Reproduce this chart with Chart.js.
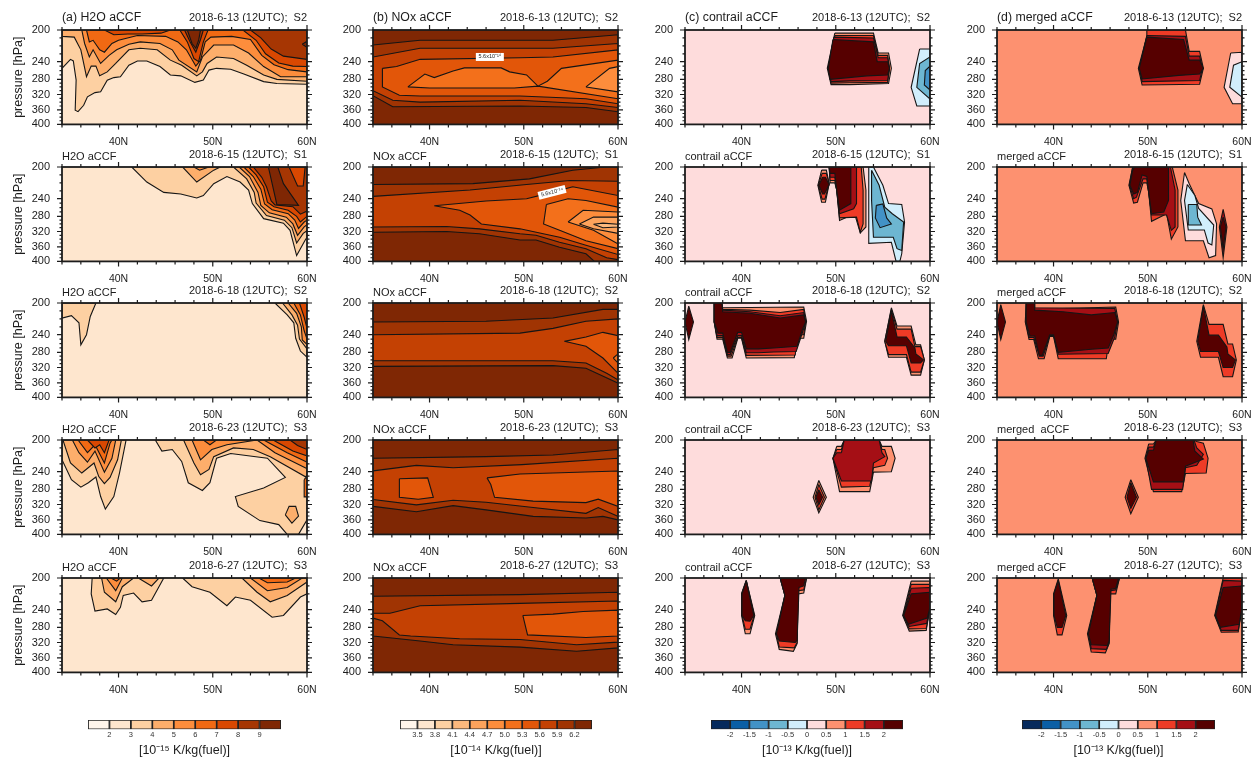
<!DOCTYPE html>
<html><head><meta charset="utf-8">
<style>html,body{margin:0;padding:0;background:#fff}#root{position:relative;width:1258px;height:758px;overflow:hidden;filter:blur(0.45px)}canvas{position:absolute}</style>
<script src="https://cdn.jsdelivr.net/npm/chart.js@4/dist/chart.umd.min.js"></script>
</head><body><div id="root"></div>
<script>
// ---------- axis values ----------
const pressureTicks=[200,240,280,320,360,400];
const pressureFractions=[0,.336,.523,.683,.846,1];   // the model-level axis is not linear in pressure
const latMajor=[40,50,60];
const latMinor=[34,36,38,42,44,46,48,52,54,56,58];
const pressureMinor=[210,220,230,250,260,270,290,300,310,330,340,350,370,380,390];
const rowDates=['2018-6-13 (12UTC);  S2','2018-6-15 (12UTC);  S1','2018-6-18 (12UTC);  S2','2018-6-23 (12UTC);  S3','2018-6-27 (12UTC);  S3'];
const h2oTitles=['(a) H2O aCCF','H2O aCCF','H2O aCCF','H2O aCCF','H2O aCCF'];
const noxTitles=['(b) NOx aCCF','NOx aCCF','NOx aCCF','NOx aCCF','NOx aCCF'];
const conTitles=['(c) contrail aCCF','contrail aCCF','contrail aCCF','contrail aCCF','contrail aCCF'];
const merTitles=['(d) merged aCCF','merged aCCF','merged aCCF','merged  aCCF','merged aCCF'];
// ---------- colour levels and colourbars ----------
const h2oColors=['#fff5eb','#fee6ce','#fdd0a2','#fdae6b','#fd8d3c','#f16913','#d94801','#a63603','#7f2704'];
const noxColors=['#fff5eb','#fee6ce','#fdd0a2','#fdb97d','#fda35c','#fd8d3c','#f3701b','#e25609','#c44103','#a03403','#7f2704'];
const accfColors=['#062a5c','#0b5fa5','#4292c6','#6db6d1','#d1eefc','#fedcdc','#fd9170','#ee3b26','#a50f15','#560000'];
const h2oBarLabels=['2','3','4','5','6','7','8','9'];
const noxBarLabels=['3.5','3.8','4.1','4.4','4.7','5.0','5.3','5.6','5.9','6.2'];
const accfBarLabels=['-2','-1.5','-1','-0.5','0','0.5','1','1.5','2'];
// ---------- contour regions: [level, [lat,p, lat,p, ...]] ----------
const h2o0613=[[1,[34,200,60,200,60,400,34,400]],
[2,[34,255,34.9,237,35.2,239,35.5,282,35.4,361,35.7,365,36.3,348,36.7,326,37.5,315,38.1,313,38.8,282,39.5,276,40.2,274,41.1,248,42,239,43,239,44.4,251,45.5,270,46.6,272,48.1,288,49,282,49.6,259,50.4,255,51.9,257,53.3,268,55.4,286,56.8,291,60,293,60,200,34,200]],
[3,[34,208,35.3,209,36,225,36.6,274,37.1,250,37.6,250,38,272,38.8,263,39.7,244,41.1,225,42.3,223,44.1,225,45.5,238,46.7,248,48.3,272,48.9,263,49.4,244,50.4,234,52.2,236,53.6,248,55.4,270,56.8,280,60,285,60,200,34,200]],
[4,[36.1,200,36.4,217,36.9,234,37.3,225,38.1,244,39,232,39.8,225,41.1,218,42.3,215,44.4,217,45.7,225,46.4,238,48.3,263,48.9,234,50.1,219,52.2,219,53.8,229,55.4,251,57.2,274,60,274,60,200]],
[5,[36.6,200,36.9,215,37.3,213,38,225,38.5,228,39.3,217,40,213,42,207,45,208,46.3,215,47.2,225,48.2,250,48.7,238,49.2,215,49.8,209,52,208,54,212,55.2,232,56.5,247,58,258,60,263,60,200]],
[6,[38.5,200,39.5,206,41,205,42.5,205,44.5,204,45.5,200]],
[6,[46.5,200,47.3,215,48,236,48.5,240,49,215,49.5,200]],
[6,[53.2,200,54.6,213,55.6,230,57,243,58.5,250,60,251,60,200]],
[7,[47,200,47.6,215,48.2,228,48.7,212,49,200]],
[7,[54,200,55.1,210,56.2,224,57.5,233,60,237,60,200]],
[8,[47.3,200,47.8,217,48.2,223,48.5,213,48.7,200]],
[8,[59.5,218,60,214,60,222]]];
const h2o0615=[[1,[34,200,60,200,60,400,34,400]],
[2,[41.4,200,43,219,44.8,232,46.6,234,48.3,239,49,236,50.1,221,51.5,212,52.9,219,53.8,229,54.2,251,55.4,286,57.5,298,58.2,317,58.9,384,59.8,343,60,335,60,200]],
[3,[46.8,200,48.3,219,50.1,204,50.8,200]],
[4,[48,200,48.6,204,49.6,200]],
[3,[52.2,200,53.6,215,54.4,232,54.6,250,55.7,278,57.6,290,58.4,310,58.9,350,59.6,325,60,318,60,200]],
[4,[52.8,200,53.9,212,54.8,232,55.1,255,56,272,57.8,282,58.5,300,59,330,59.7,308,60,302,60,200]],
[5,[53.3,200,54.3,212,55.1,228,55.5,252,56.3,265,58,274,58.7,290,59.1,312,59.7,295,60,290,60,200]],
[6,[53.8,200,54.6,210,55.4,225,55.8,248,56.5,258,58,266,58.9,280,59.3,295,60,280,60,200]],
[7,[54.3,200,55.2,213,55.7,225,56.2,245,56.6,254,58.5,258,59.3,275,60,268,60,200]],
[8,[55.9,200,56.8,253,59.1,255,57.5,221,56.9,200]],
[6,[58.1,200,59,224,59.6,224,59.8,200]]];
const h2o0618=[[1,[34,200,60,200,60,400,34,400]],
[2,[37.6,200,37,217,36.6,240,36,263,35.8,225,35,216,34,219,34,200]],
[2,[56.6,200,57.9,215,58.6,225,58.8,248,59.3,277,60,293,60,200]],
[3,[57.4,200,58.4,215,59,228,59.2,250,60,272,60,200]],
[4,[58,200,58.9,213,59.4,230,59.5,252,60,262,60,200]],
[5,[58.6,200,59.3,215,59.7,235,60,250,60,200]],
[6,[59.2,200,59.7,218,60,232,60,200]]];
const h2o0623=[[1,[34,200,60,200,60,400,34,400]],
[2,[34,225,35,258,36,275,36.8,265,37.6,252,38.1,299,38.6,332,39.5,299,40.1,243,40.8,200,34,200]],
[3,[34.1,200,34.9,229,36.1,243,37.4,229,37.9,251,38.5,267,39.1,253,39.9,225,40.3,200]],
[4,[35.1,200,35.8,216,36.7,228,37.5,214,38.5,241,39.3,223,39.7,200]],
[5,[35.7,200,36.7,216,37.5,206,38.5,229,39.1,204,39.3,200]],
[6,[36.7,200,37.5,210,38,206,38.5,216,39,200]],
[2,[43.9,200,44.6,214,45.7,212,46.7,227,47.4,265,48.9,283,49.7,265,50.4,223,51.9,217,55.8,223,57.7,253,55.4,277,52.4,299,52.7,325,55,362,57,373,57.9,400,59.1,400,60,360,60,200]],
[3,[46.9,200,48,229,48.7,247,49.6,237,50.1,221,52.2,210,54.3,212,56.1,221,59.8,251,60,250,60,200]],
[3,[57.7,347,58.1,325,58.8,325,59.1,350,58.4,369]],
[4,[47.8,200,48.7,225,49.9,212,51.5,206,54.7,200,56.6,216,60,236,60,200]],
[5,[49,200,49.7,206,50.4,200]],
[5,[55.4,200,57.9,216,60,228,60,200]],
[6,[56.4,200,58.5,214,60,220,60,200]],
[7,[58.2,200,59,207,60,212,60,200]],
[5,[59.7,258,60,250,60,300,59.7,300]]];
const h2o0627=[[1,[34,200,60,200,60,400,34,400]],
[2,[37.2,200,37.1,220,37.5,243,38.8,239,39.7,251,40.2,237,40.5,222,41.6,219,42.5,230,43.5,228,44.8,200]],
[2,[46.8,200,47.8,211,49.7,218,51.5,235,52.4,224,54,228,56.3,257,57.5,253,59.3,224,60,220,60,200]],
[3,[38.2,200,38.5,218,39.7,230,40.4,211,41.6,200]],
[3,[42.1,200,43.5,210,44.3,200]],
[3,[53.1,200,54.7,218,56.1,230,57.9,222,60,205,60,200]],
[4,[38.7,200,39.7,216,40.4,200]],
[4,[54,200,55.8,216,57.9,212,59.5,200]],
[5,[39.2,200,39.8,204,40.2,200]],
[5,[54.9,200,55.8,206,57.9,205,58.8,200]]];
const nox0613=[[10,[34,200,60,200,60,400,34,400]],
[9,[34,219,39,213,53.1,213,60,206,60,365,56.6,354,49.6,350,36.1,352,34,323]],
[8,[34,234,39,223,53.1,223,60,217,60,354,56.6,344,49.6,335,39,340,36.1,335,34,310]],
[7,[35,255,36.5,251,39,237,49.6,235,53.1,234,60,225,60,344,56.6,331,49.6,324,39,324,36.8,322,35,300]],
[6,[37.7,300,39.5,268,40.5,276,42.5,261,43.7,254,47.6,254,48.5,263,50.3,270,51.5,298,52.5,285,54,255,60,238,60,331,51.5,298,49,303,40,303]],
[5,[56.6,300,59.1,255,60,251,60,313]]];
const nox0615=[[10,[34,200,60,200,60,400,34,400]],
[9,[34,222,44.6,221,50.6,215,55.2,204,58.7,200,60,200,60,400,57.5,400,56.6,379,53.8,361,51.3,342,49.6,342,45.3,326,41.8,320,34,322]],
[8,[34,237,44.3,229,50.3,222,54.9,217,60,218,60,395,58.8,390,56.6,365,53.8,348,51.3,330,49.6,326,45.3,313,41.8,307,34,308]],
[7,[40.5,256,46,245,50.3,240,53,232,55.2,225,60,236,60,381,56.6,356,53.8,335,49.6,313,45.5,300,44.3,277,43.2,266]],
[6,[52.4,253,54.7,240,56.6,244,60,259,60,365,56.6,344,53.8,317,52.1,300]],
[5,[54.7,295,56.3,266,60,270,60,352,57.4,317]],
[4,[55.9,300,57.4,282,60,282,60,325,57.4,313]],
[3,[57.4,301,58.4,298,60,301,60,308,58.4,310]]];
const nox0618=[[10,[34,200,60,200,60,400,34,400]],
[9,[34,224,46,223,53.1,219,58.4,208,60,208,60,361,56.6,322,53.1,315,34,317]],
[8,[34,240,49.6,238,53.1,232,56.6,223,60,220,60,352,58.8,335,56.6,308,53.1,302,34,302]],
[7,[54.3,255,56.6,245,58.4,237,60,242,60,335,58.4,295,56.6,266]],
[6,[59.5,295,60,284,60,308]]];
const nox0623=[[10,[34,200,60,200,60,400,34,400]],
[9,[34,223,46,221,53.1,219,60,212,60,360,58.4,351,56.6,355,51,351,46,334,42.5,323,38.6,339,34,325]],
[8,[34,239,38.6,232,42.5,235,49.8,231,60,223,60,351,57.9,328,56.6,343,51,328,46,314,42.5,309,38.6,321,34,307]],
[7,[36.8,256,39.8,254,40.4,301,38.8,306,36.8,301]],
[7,[46.1,254,49.6,245,60,239,60,325,57.9,306,56.6,315,51,311,46.9,301,46.5,269]]];
const nox0627=[[10,[34,200,60,200,60,400,34,400]],
[9,[34,223,49.6,221,60,218,60,334,55.6,343,49.6,332,42.5,326,39,316,34,303]],
[8,[34,248,35.8,248,39,235,49.6,232,60,229,60,319,55.6,326,49.6,312,43.2,310,38,303,36.8,300,35,265,34,259]],
[7,[49.9,253,53.1,250,56.3,244,60,241,60,303,56.6,307,50.4,300]]];
const con0613=[[5,[34,200,60,200,60,400,34,400]],
[6,[49.9,204,54,204,54.5,229,55.6,229,55.9,255,55.6,291,51.5,294,49.5,294,49.1,255]],
[7,[49.9,207,54,207,54.5,232,55.5,232,55.7,255,55.5,288,51.5,289,49.5,290,49.2,255]],
[8,[49.8,209,54,210,54.5,235,55.5,235,55.7,255,55.5,283,51.5,284,49.5,286,49.2,255]],
[9,[49.7,212,54,215,54.4,240,55.5,240,55.7,255,55.5,270,53.3,272,49.4,280,49.2,255]],
[4,[58.9,224,60,224,60,350,58.6,350,58,301]],
[3,[60,234,58.9,244,58.6,301,60,332]],
[2,[60,250,59.5,260,59.4,295,60,308]]];
const con0615=[[5,[34,200,60,200,60,400,34,400]],
[6,[48.5,204,49,204,49.3,221,48.9,248,48.5,248,48.1,223]],
[7,[48.55,208,49,208,49.3,221,48.85,241,48.55,241,48.15,223]],
[9,[48.6,213,48.9,213,49.3,222,48.8,234,48.6,234,48.2,223]],
[6,[49.3,200,52.9,200,53.2,229,53.2,308,52.6,324,52,274,50.4,291,50.1,229,49.9,220,49.4,220]],
[7,[49.3,200,52.7,200,52.9,229,52.9,300,52.6,322,52.2,282,50.4,284,50.1,229,49.9,217,49.4,217]],
[8,[49.3,200,52.2,200,52.2,251,51.9,263,50.4,274,50.1,229,49.9,213,49.4,213]],
[9,[49.3,200,51.6,200,51.6,251,50.4,266,50.1,229,49.9,208,49.4,208]],
[4,[53.5,200,54,200,55,223,55.6,251,57,253,57.3,295,57,379,56.8,400,56.4,400,55.9,348,53.5,351]],
[3,[53.8,204,54.6,223,55.2,259,56,274,57.2,295,57,370,56.5,365,56.1,335,54,335,53.8,244]],
[2,[54.3,255,55,252,55.4,284,55.9,300,54.7,310,54.2,284]]];
const con0618=[[5,[34,200,60,200,60,400,34,400]],
[9,[34.4,204,34.9,224,34.4,251,34,224]],
[6,[37.1,200,37.9,200,38,206,46.6,205,46.9,223,46.6,248,45.9,248,45.6,294,40.5,295,40,248,39.6,248,39,295,38.5,295,38,250,37.4,250,37.1,224]],
[7,[37.1,200,37.9,200,38,208,40.9,209,44.1,212,46.6,208,46.8,224,46.6,240,45.9,240,45.7,287,40.5,288,40,246,39.6,246,38.9,290,38.5,290,38,246,37.4,246,37.1,224]],
[8,[37.1,200,37.9,200,38,209,40.9,211,44.1,216,46.6,212,46.8,224,46.5,236,45.8,278,43.4,279,41.8,281,40.5,281,40,242,39.6,242,38.8,286,38.5,286,38,242,37.4,242,37.1,224]],
[9,[37.1,200,37.9,200,38,211,40.9,213,44.1,219,46.6,215,46.8,224,46.5,232,45.9,266,43.4,270,41.8,272,40.5,272,40,237,39.6,237,38.8,280,38.5,280,38,238,37.5,238,37.1,224]],
[6,[55.9,206,56.5,229,58,229,58.5,263,59,263,59.4,300,59,340,58,340,57.5,293,55.6,293,55.2,255]],
[7,[55.9,208,56.5,233,58,233,58.4,267,59,267,59.4,300,59,332,58,332,57.5,286,55.6,286,55.2,255]],
[9,[55.9,210,56.5,245,57.5,245,58.4,270,58.5,284,59.3,300,59,308,58,308,57.5,265,55.6,265,55.3,255]]];
const con0623=[[5,[34,200,60,200,60,400,34,400]],
[6,[50.1,208,50.6,208,50.9,200,54.6,200,54.9,208,55.9,208,56.3,223,55.9,240,54,241,53.6,286,50.4,286,49.7,223]],
[7,[50.1,212,50.6,212,50.9,200,54.6,200,54.9,212,55.2,212,55.5,223,55.2,232,54,235,53.6,273,50.6,275,49.7,223]],
[8,[50.6,216,50.9,200,54.6,200,54.9,216,55.2,221,54,229,53.8,261,50.6,261,49.7,223,50.1,216]],
[6,[48.2,260,49,301,48.2,342,47.6,301]],
[7,[48.2,269,48.8,301,48.2,334,47.8,301]],
[9,[48.2,281,48.6,301,48.2,321,47.9,301]]];
const con0627=[[5,[34,200,60,200,60,400,34,400]],
[6,[40.5,203,41.4,253,40.9,297,40.4,297,40,253,40,220]],
[7,[40.5,203,41.35,253,40.9,285,40.4,285,40.05,253,40,220]],
[9,[40.5,204,41.3,253,40.9,266,40.4,265,40.05,253,40.05,220]],
[6,[44.1,200,46.9,200,46.6,219,46,220,45.9,323,45.5,343,44,338,43.6,297,44.6,222]],
[7,[44.1,200,46.9,200,46.6,215,46,216,45.9,320,45.6,334,44,332,43.7,297,44.6,222]],
[9,[44.1,200,46.8,200,46.6,210,46.1,212,45.9,314,45.7,320,44,316,43.7,297,44.6,222]],
[6,[58,204,60,204,60,237,59.6,288,57.8,290,57.1,253]],
[7,[58,208,60,208,60,237,59.6,283,57.8,284,57.15,253]],
[8,[58,213,60,212,60,237,59.65,271,57.8,278,57.2,253]],
[9,[58,220,60,218,60,237,59.7,259,57.7,273,57.2,253]]];
const mer0613=[[6,[34,200,60,200,60,400,34,400]],
[7,[49.9,200,54,200,54.4,227,55.5,227,55.9,255,55.5,293,49.4,295,49,255,49.9,208]],
[8,[49.9,207,54,208,54.4,233,55.5,233,55.8,255,55.5,283,49.4,286,49.1,255]],
[9,[49.9,209,53.8,212,54.4,238,55.5,238,55.9,255,55.5,268,53.3,271,49.4,279,49.1,255]],
[5,[58.8,229,60,228,60,344,59,344,58.1,301]],
[4,[60,240,59.1,248,58.7,301,60,327]]];
const mer0615=[[6,[34,200,60,200,60,400,34,400]],
[7,[48.4,200,52.6,200,53.2,229,53.2,308,52.5,340,52,274,50.4,293,50.1,232,49.9,220,49.5,220,48.9,248,48.5,250,48,223]],
[8,[48.4,200,52.4,200,52.9,229,52.9,308,52.5,317,52,277,50.4,277,50.1,232,49.9,215,49.5,215,48.8,238,48.5,240,48.05,223]],
[9,[48.4,204,48.6,200,52.2,200,52.2,244,51.7,270,50.4,274,50.1,232,49.9,212,49.4,210,48.9,232,48.5,234,48.1,223]],
[5,[53.9,207,54.4,221,55.4,251,56.8,263,57.3,300,57.2,384,56.5,390,55.9,344,54,344,53.5,244]],
[4,[54.2,222,55,236,55.4,262,57,303,56.8,355,56.4,350,56,316,54.3,316,53.9,244]],
[3,[54.3,253,55.2,253,55.3,282,55.7,303,54.3,303]],
[8,[58,264,58.4,308,58,390,57.6,308]],
[9,[58,282,58.3,308,58,365,57.7,308]]];
const mer0618=[[6,[34,200,60,200,60,400,34,400]],
[9,[34.4,202,34.9,224,34.4,251,34,224]],
[7,[37.1,200,37.9,200,38,208,46.6,205,46.9,224,46.6,250,45.9,250,45.6,297,40.5,297,40,244,39.6,244,39,297,38.4,297,37.9,251,37.4,251,37,224]],
[8,[37.1,200,38,200,38,206,46.5,207,46.8,224,46.5,245,45.8,283,40.5,285,40,242,39.6,242,38.9,290,38.5,290,37.9,246,37.4,246,37.05,224]],
[9,[37.1,200,38,200,38,209,41,211,44,215,46.5,212,46.8,224,46.4,240,45.8,270,44,273,41.5,278,40.5,280,40,240,39.6,240,38.8,288,38.5,288,38,243,37.5,243,37.1,224]],
[7,[55.9,202,56.5,227,58,227,58.5,261,59,261,59.4,300,59,344,58,344,57.5,293,55.6,293,55.2,255]],
[9,[55.9,204,56.5,241,57.5,241,58.4,268,58.5,284,59.3,300,59,320,58,320,57.5,278,55.6,278,55.3,255]]];
const mer0623=[[6,[34,200,60,200,60,400,34,400]],
[7,[50.1,205,50.6,205,50.9,200,54.9,200,55.2,202,55.9,204,56.4,223,56.2,243,54,244,53.6,286,50.6,286,49.7,223]],
[8,[50.1,209,50.6,209,50.9,200,54.9,200,55.2,210,55.9,218,55.2,232,54,235,53.7,280,50.4,280,49.8,223]],
[9,[50.1,213,50.6,213,50.9,200,54.8,200,55,214,55.9,224,54,233,53.8,263,50.6,263,49.8,223]],
[7,[48.2,258,49,301,48.2,344,47.6,301]],
[9,[48.2,265,48.8,301,48.2,330,47.8,301]]];
const mer0627=[[6,[34,200,60,200,60,400,34,400]],
[7,[40.5,201,41.4,253,40.9,300,40.4,300,40,253,40,220]],
[9,[40.5,203,41.3,253,40.9,280,40.4,280,40.05,253,40.05,220]],
[7,[44.1,200,47,200,46.6,220,46,220,45.9,323,45.5,347,44,345,43.6,297,44.6,222]],
[8,[44.1,200,47,200,46.6,215,46,216,45.9,320,45.6,338,44,336,43.7,297,44.6,222]],
[9,[44.1,200,46.9,200,46.6,213,46.1,214,45.9,315,45.7,328,44,326,43.7,297,44.6,222]],
[7,[58,200,60,200,60,237,59.6,292,57.8,293,57.1,253]],
[8,[58,203,60,204,60,237,59.6,288,57.8,288,57.15,253]],
[9,[58,212,60,210,60,237,59.7,273,57.7,280,57.2,253]]];
// ---------- layout ----------
const colLeft=[62,373,685,997], rowTop=[30,167,303,440,578];
const AREA_W=245, AREA_H=94.4, PAD_L=62, PAD_T=22, PAD_R=16, PAD_B=28;
const ink='#1c1c1c';

class PressureScale extends Chart.LinearScale{
  static id='pressureLevels';
  static defaults=Chart.LinearScale.defaults;
  getPixelForValue(v){
    const s=pressureTicks,f=pressureFractions;let i=0;
    while(i<s.length-2&&v>s[i+1])i++;
    const t=f[i]+(v-s[i])/(s[i+1]-s[i])*(f[i+1]-f[i]);
    return this.top+t*(this.bottom-this.top);
  }
  getValueForPixel(px){
    const t=(px-this.top)/(this.bottom-this.top),s=pressureTicks,f=pressureFractions;let i=0;
    while(i<s.length-2&&t>f[i+1])i++;
    return s[i]+(t-f[i])/(f[i+1]-f[i])*(s[i+1]-s[i]);
  }
}
Chart.register(PressureScale);

const framePlugin={id:'frame',afterDatasetsDraw(c,_,o){
  const g=c.ctx,a=c.chartArea,x=c.scales.x,y=c.scales.y;g.save();
  g.strokeStyle=ink;g.lineWidth=1.2;g.beginPath();
  const xt=(v,l)=>{const p=x.getPixelForValue(v);g.moveTo(p,a.bottom);g.lineTo(p,a.bottom+l);g.moveTo(p,a.top);g.lineTo(p,a.top-l);};
  const yt=(v,l)=>{const p=y.getPixelForValue(v);g.moveTo(a.left,p);g.lineTo(a.left-l,p);g.moveTo(a.right,p);g.lineTo(a.right+l,p);};
  latMajor.forEach(v=>xt(v,5));latMinor.forEach(v=>xt(v,3));
  pressureTicks.forEach(v=>yt(v,5));pressureMinor.forEach(v=>yt(v,2.5));
  g.stroke();g.lineWidth=1.8;g.strokeRect(a.left,a.top,a.right-a.left,a.bottom-a.top);
  if(o.label){const l=o.label;g.translate(x.getPixelForValue(l.lat),y.getPixelForValue(l.p));g.rotate(l.angle*Math.PI/180);
    g.fillStyle='#fff';g.fillRect(-14,-4,28,8);g.fillStyle='#222';g.font='5.5px "Liberation Sans"';g.textAlign='center';g.textBaseline='middle';g.fillText(l.text,0,0);}
  g.restore();
}};
const titlePlugin={id:'panelTitles',afterDraw(c,_,o){
  const g=c.ctx,a=c.chartArea;g.save();g.fillStyle=ink;g.textBaseline='middle';
  g.font=(o.first?12.3:11)+'px "Liberation Sans"';g.textAlign='left';g.fillText(o.left,a.left,a.top-(o.first?12.5:10));
  g.font='11px "Liberation Sans"';g.textAlign='right';g.fillText(o.right,a.right,a.top-12);g.restore();
}};

function addCanvas(l,t,w,h){const cv=document.createElement('canvas');cv.width=w;cv.height=h;cv.style.left=l+'px';cv.style.top=t+'px';cv.style.width=w+'px';cv.style.height=h+'px';document.getElementById('root').appendChild(cv);return cv;}

function drawPanel(col,row,regions,colors,leftTitle,label){
  const cv=addCanvas(colLeft[col]-PAD_L,rowTop[row]-PAD_T,PAD_L+AREA_W+PAD_R,PAD_T+Math.ceil(AREA_H)+PAD_B);
  const list=regions.filter(r=>r[1].length);
  const datasets=list.map((r,i)=>{const pts=[];for(let k=0;k<r[1].length;k+=2)pts.push({x:r[1][k],y:r[1][k+1]});pts.push(pts[0]);
    return {data:pts,fill:'shape',backgroundColor:colors[r[0]],borderColor:i?'#151515':colors[r[0]],borderWidth:i?1.1:0,pointRadius:0,tension:0,order:list.length-i};});
  new Chart(cv,{type:'line',data:{datasets},plugins:[framePlugin,titlePlugin],options:{
    responsive:false,animation:false,devicePixelRatio:1,events:[],
    layout:{padding:{top:PAD_T,right:PAD_R,left:0,bottom:0}},
    plugins:{legend:{display:false},tooltip:{enabled:false},frame:{label},panelTitles:{left:leftTitle,right:rowDates[row],first:row===0}},
    scales:{
      x:{type:'linear',min:34,max:60,border:{display:false},grid:{display:false,drawTicks:false},
        afterFit:s=>{s.height=PAD_B+Math.ceil(AREA_H)-AREA_H;s.paddingLeft=0;s.paddingRight=0;},
        afterBuildTicks:s=>{s.ticks=latMajor.map(v=>({value:v}));},
        ticks:{padding:11,maxRotation:0,autoSkip:false,color:ink,font:{family:'Liberation Sans',size:10.5},callback:v=>v+'N'}},
      y:{type:'pressureLevels',min:200,max:400,border:{display:false},grid:{display:false,drawTicks:false},
        afterFit:s=>{s.width=PAD_L;s.paddingTop=0;s.paddingBottom=0;},
        afterBuildTicks:s=>{s.ticks=pressureTicks.map(v=>({value:v}));},
        title:{display:col===0,text:'pressure [hPa]',color:ink,font:{family:'Liberation Sans',size:12.5},padding:{top:11,bottom:0}},
        ticks:{padding:12,autoSkip:false,color:ink,font:{family:'Liberation Sans',size:11},callback:v=>String(v)}}
    }}});
}

function drawColorbar(left,width,colors,labels,unit){
  const cv=addCanvas(left-20,712,width+40,46);
  const datasets=colors.map(c=>({data:[1],backgroundColor:c,borderColor:'#222',borderWidth:1.2,borderSkipped:false,stack:'s',barPercentage:1,categoryPercentage:1}));
  new Chart(cv,{type:'bar',data:{labels:[''],datasets},options:{
    indexAxis:'y',responsive:false,animation:false,devicePixelRatio:1,events:[],
    layout:{padding:{left:20,right:20,top:8,bottom:0}},
    plugins:{legend:{display:false},tooltip:{enabled:false}},
    scales:{
      y:{stacked:true,display:false},
      x:{type:'linear',stacked:true,min:0,max:colors.length,border:{display:false},grid:{display:false,drawTicks:false},
        afterBuildTicks:s=>{s.ticks=labels.map((_,i)=>({value:i+1}));},
        afterFit:s=>{s.height=28.7;},
        ticks:{padding:1.5,autoSkip:false,maxRotation:0,color:'#333',font:{family:'Liberation Sans',size:7.5},callback:v=>labels[v-1]},
        title:{display:true,text:unit,color:ink,font:{family:'Liberation Sans',size:12.5},padding:{top:2,bottom:0}}}
    }}});
}

[h2o0613,h2o0615,h2o0618,h2o0623,h2o0627].forEach((r,i)=>drawPanel(0,i,r,h2oColors,h2oTitles[i]));
[nox0613,nox0615,nox0618,nox0623,nox0627].forEach((r,i)=>drawPanel(1,i,r,noxColors,noxTitles[i],
  i===0?{lat:46.4,p:234,angle:0,text:'5.6x10⁻¹⁴'}:i===1?{lat:53,p:232,angle:-14,text:'5.6x10⁻¹⁴'}:null));
[con0613,con0615,con0618,con0623,con0627].forEach((r,i)=>drawPanel(2,i,r,accfColors,conTitles[i]));
[mer0613,mer0615,mer0618,mer0623,mer0627].forEach((r,i)=>drawPanel(3,i,r,accfColors,merTitles[i]));
drawColorbar(88,193,h2oColors,h2oBarLabels,'[10⁻¹⁵ K/kg(fuel)]');
drawColorbar(400,192,noxColors,noxBarLabels,'[10⁻¹⁴ K/kg(fuel)]');
drawColorbar(711,192,accfColors,accfBarLabels,'[10⁻¹³ K/kg(fuel)]');
drawColorbar(1022,193,accfColors,accfBarLabels,'[10⁻¹³ K/kg(fuel)]');
</script></body></html>
